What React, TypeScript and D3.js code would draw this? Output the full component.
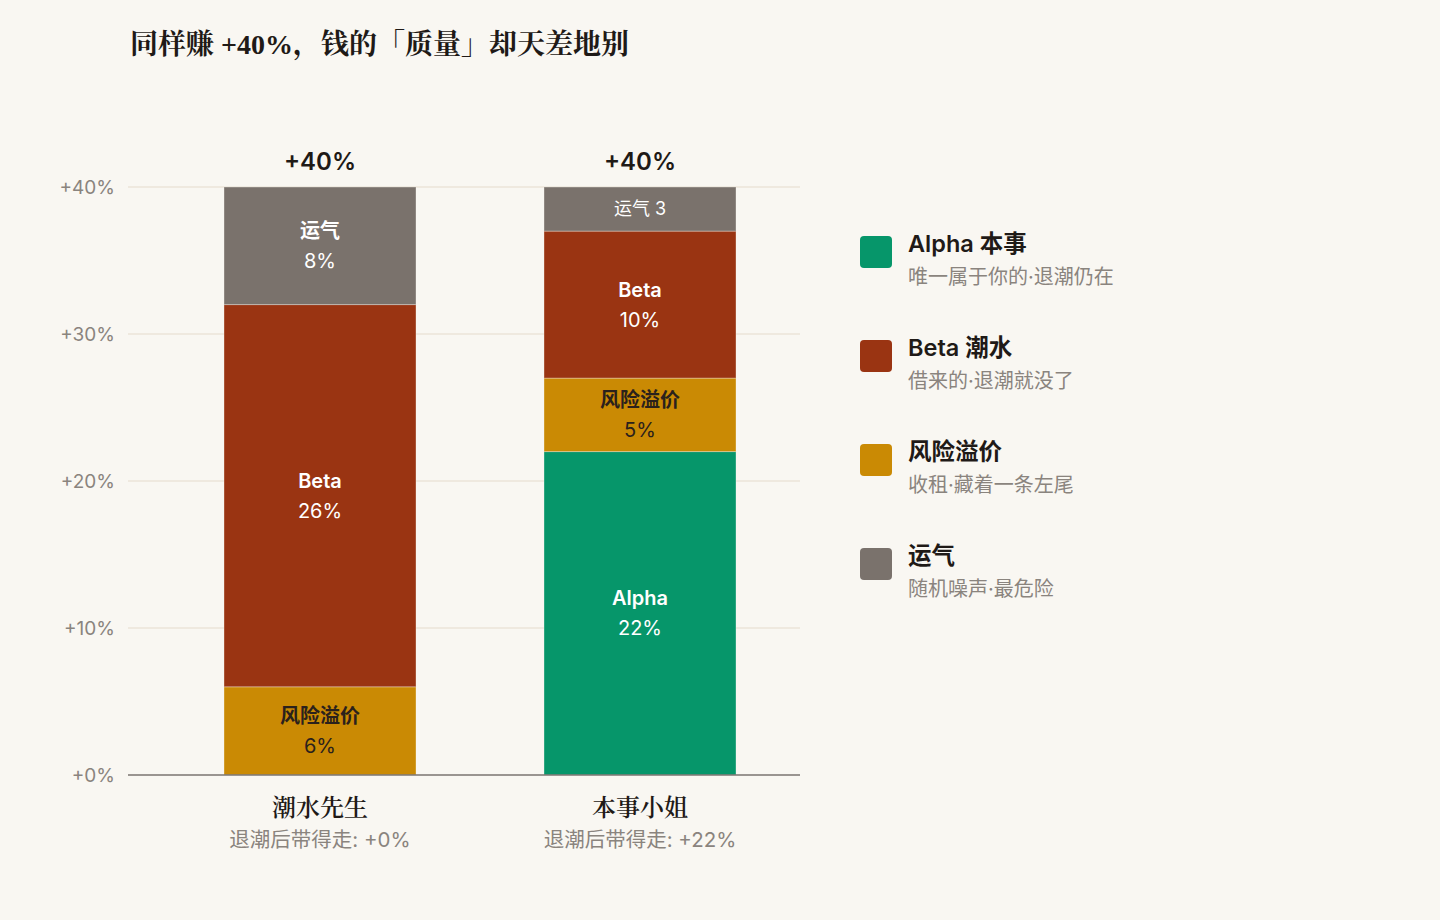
import React, { useEffect, useRef } from 'react';
import * as d3 from 'd3';

const people = ['潮水先生', '本事小姐'];
const takeaway = ['退潮后带得走: +0%', '退潮后带得走: +22%'];
const totals = ['+40%', '+40%'];

const components = ['alpha', 'risk', 'beta', 'luck'];
const componentNames = ['Alpha', '风险溢价', 'Beta', '运气'];
const componentColors = ['#06966a', '#ca8a04', '#9a3412', '#7a726c'];
const componentText = ['#ffffff', '#2a211c', '#ffffff', '#ffffff'];

// values per person, in order alpha, risk, beta, luck (percent points)
const tideValues = [0, 6, 26, 8];
const skillValues = [22, 5, 10, 3];

const yTicks = [0, 10, 20, 30, 40];

const legendTitles = ['Alpha 本事', 'Beta 潮水', '风险溢价', '运气'];
const legendNotes = ['唯一属于你的·退潮仍在', '借来的·退潮就没了', '收租·藏着一条左尾', '随机噪声·最危险'];
const legendColors = ['#06966a', '#9a3412', '#ca8a04', '#7a726c'];

const SANS = "Inter, 'Noto Sans CJK SC', sans-serif";
const SERIF = "'Liberation Serif', 'Noto Serif CJK SC', serif";
const BG = '#f9f7f2';

export default function App() {
  const svgRef = useRef<SVGSVGElement>(null);

  useEffect(() => {
    document.body.style.margin = '0';
    document.body.style.background = BG;
    if (!svgRef.current) return;

    const width = 1440;
    const height = 920;
    const svg = d3.select(svgRef.current);
    svg.selectAll('*').remove();
    svg.attr('width', width).attr('height', height);

    svg.append('rect').attr('width', width).attr('height', height).attr('fill', BG);

    // title
    svg.append('text')
      .attr('x', 130)
      .attr('y', 54)
      .style('font-family', SERIF)
      .style('font-size', '28px')
      .style('font-weight', 'bold')
      .style('fill', '#1f1a17')
      .text('同样赚 +40%，钱的「质量」却天差地别');

    const x0 = 128;
    const x1 = 800;
    const y = d3.scaleLinear().domain([0, 40]).range([775, 187]);
    const x = d3.scaleBand<string>().domain(people).range([160, 800]).paddingInner(0.4).paddingOuter(0.2);

    // grid
    svg.append('g')
      .selectAll('line')
      .data(yTicks.filter(t => t > 0))
      .join('line')
      .attr('x1', x0)
      .attr('x2', x1)
      .attr('y1', d => y(d))
      .attr('y2', d => y(d))
      .attr('stroke', '#ebe4d8')
      .attr('stroke-width', 1.5);

    svg.append('g')
      .selectAll('text')
      .data(yTicks)
      .join('text')
      .attr('x', 115)
      .attr('y', d => y(d))
      .attr('dy', '0.35em')
      .attr('text-anchor', 'end')
      .style('font-family', SANS)
      .style('font-size', '19px')
      .style('fill', '#8a847e')
      .text(d => `+${d}%`);

    const rows = [tideValues, skillValues].map((vals, i) => {
      const r: any = { person: people[i] };
      components.forEach((c, j) => (r[c] = vals[j]));
      return r;
    });
    const series = d3.stack<any>().keys(components)(rows);

    series.forEach((s, ci) => {
      s.forEach((seg, pi) => {
        const v = seg[1] - seg[0];
        if (v <= 0) return;
        const px = x(people[pi])!;
        const yt = y(seg[1]);
        const yb = y(seg[0]);
        svg.append('rect')
          .attr('x', px)
          .attr('y', yt)
          .attr('width', x.bandwidth())
          .attr('height', yb - yt)
          .attr('fill', componentColors[ci])
          .attr('stroke', 'rgba(249,247,242,0.35)')
          .attr('stroke-width', 1);

        const cx = px + x.bandwidth() / 2;
        const cy = (yt + yb) / 2;
        const g = svg.append('g')
          .style('font-family', SANS)
          .style('fill', componentText[ci])
          .attr('text-anchor', 'middle');
        if (yb - yt < 60) {
          g.append('text')
            .attr('x', cx)
            .attr('y', cy)
            .attr('dy', '0.35em')
            .style('font-size', '18px')
            .text(`${componentNames[ci]} ${v}`);
        } else {
          g.append('text')
            .attr('x', cx)
            .attr('y', cy - 15)
            .attr('dy', '0.35em')
            .style('font-size', '20px')
            .style('font-weight', 600)
            .text(componentNames[ci]);
          g.append('text')
            .attr('x', cx)
            .attr('y', cy + 15)
            .attr('dy', '0.35em')
            .style('font-size', '20px')
            .text(`${v}%`);
        }
      });
    });

    // totals
    svg.append('g')
      .selectAll('text')
      .data(people)
      .join('text')
      .attr('x', d => x(d)! + x.bandwidth() / 2)
      .attr('y', 162)
      .attr('dy', '0.35em')
      .attr('text-anchor', 'middle')
      .style('font-family', SANS)
      .style('font-size', '24px')
      .style('font-weight', 600)
      .style('fill', '#1f1a17')
      .text((d, i) => totals[i]);

    // baseline
    svg.append('line')
      .attr('x1', x0)
      .attr('x2', x1)
      .attr('y1', y(0))
      .attr('y2', y(0))
      .attr('stroke', '#7a7571')
      .attr('stroke-width', 1.5);

    // category labels
    people.forEach((p, i) => {
      const cx = x(p)! + x.bandwidth() / 2;
      svg.append('text')
        .attr('x', cx)
        .attr('y', 808)
        .attr('dy', '0.35em')
        .attr('text-anchor', 'middle')
        .style('font-family', SERIF)
        .style('font-size', '24px')
        .style('font-weight', 600)
        .style('fill', '#1f1a17')
        .text(p);
      svg.append('text')
        .attr('x', cx)
        .attr('y', 840)
        .attr('dy', '0.35em')
        .attr('text-anchor', 'middle')
        .style('font-family', SANS)
        .style('font-size', '20.5px')
        .style('fill', '#8a847e')
        .text(takeaway[i]);
    });

    // legend
    const legend = svg.append('g').attr('transform', 'translate(860,236)');
    legendTitles.forEach((t, i) => {
      const item = legend.append('g').attr('transform', `translate(0,${i * 104})`);
      item.append('rect')
        .attr('width', 32)
        .attr('height', 32)
        .attr('rx', 4)
        .attr('fill', legendColors[i]);
      item.append('text')
        .attr('x', 48)
        .attr('y', 8)
        .attr('dy', '0.35em')
        .style('font-family', SANS)
        .style('font-size', '23.5px')
        .style('font-weight', 600)
        .style('fill', '#1f1a17')
        .text(t);
      item.append('text')
        .attr('x', 48)
        .attr('y', 41)
        .attr('dy', '0.35em')
        .style('font-family', SANS)
        .style('font-size', '20px')
        .style('fill', '#8a847e')
        .text(legendNotes[i]);
    });
  }, []);

  return <svg ref={svgRef} style={{ display: 'block' }} />;
}
